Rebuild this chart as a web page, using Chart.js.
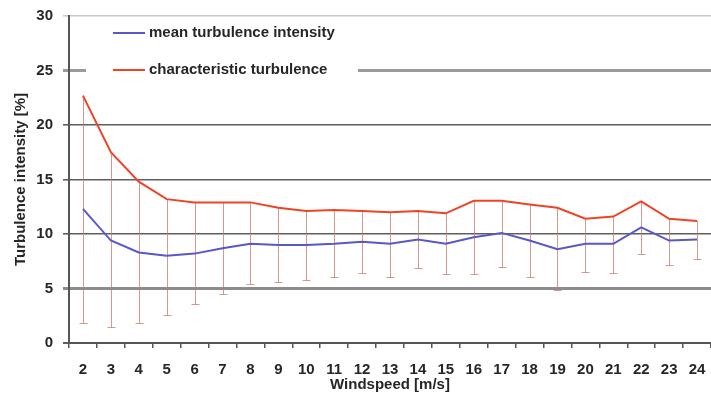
<!DOCTYPE html>
<html>
<head>
<meta charset="utf-8">
<script src="https://cdn.jsdelivr.net/npm/chart.js@4/dist/chart.umd.min.js"></script>
<style>
  body { margin: 0; background: #fff; }
  #chart { display: block; }
</style>
</head>
<body>
<canvas id="chart" width="711" height="405"></canvas>
<script>
// windspeed bins
var windspeed = ['2','3','4','5','6','7','8','9','10','11','12','13','14','15','16','17','18','19','20','21','22','23','24'];
// mean turbulence intensity [%]
var meanTI = [12.3, 9.4, 8.3, 8.0, 8.2, 8.7, 9.1, 9.0, 9.0, 9.1, 9.3, 9.1, 9.5, 9.1, 9.7, 10.1, 9.4, 8.6, 9.1, 9.1, 10.6, 9.4, 9.5];
// characteristic turbulence [%] (top of the error bars)
var charTI = [22.7, 17.5, 14.8, 13.2, 12.9, 12.9, 12.9, 12.4, 12.1, 12.2, 12.1, 12.0, 12.1, 11.9, 13.05, 13.05, 12.7, 12.4, 11.4, 11.6, 13.0, 11.4, 11.2];
// lower end of the error bars [%]
var lowTI = [1.8, 1.5, 1.8, 2.6, 3.6, 4.5, 5.4, 5.6, 5.8, 6.1, 6.4, 6.1, 6.9, 6.3, 6.3, 7.0, 6.1, 4.9, 6.5, 6.4, 8.2, 7.2, 7.7];
// y ticks
var yMin = 0, yMax = 30, yStep = 5;

var blue = '#5858c6';
var red = '#ee4426';
var textCol = '#262626';

// barras de erro desenhadas com as escalas do grafico
var errorBars = {
  id: 'errorBars',
  beforeDatasetsDraw: function(chart) {
    var ctx = chart.ctx, xs = chart.scales.x, ys = chart.scales.y;
    ctx.save();
    ctx.strokeStyle = 'rgba(196,120,110,0.75)';
    ctx.lineWidth = 1;
    for (var i = 0; i < windspeed.length; i++) {
      var x = Math.round(xs.getPixelForValue(i)) + 0.5;
      var yt = ys.getPixelForValue(charTI[i]);
      var yb = Math.round(ys.getPixelForValue(lowTI[i])) + 0.5;
      ctx.beginPath();
      ctx.moveTo(x, yt);
      ctx.lineTo(x, yb);
      ctx.moveTo(x - 4, yb);
      ctx.lineTo(x + 4, yb);
      ctx.stroke();
    }
    ctx.restore();
  }
};

// legenda dentro da area do grafico
var insideLegend = {
  id: 'insideLegend',
  afterDraw: function(chart) {
    var ctx = chart.ctx;
    ctx.save();
    ctx.fillStyle = '#fff';
    ctx.fillRect(86, 23, 272, 58);
    var items = [[blue, 'mean turbulence intensity', 33], [red, 'characteristic turbulence', 70]];
    ctx.font = 'bold 15px "Liberation Sans", Arial, sans-serif';
    ctx.textBaseline = 'middle';
    items.forEach(function(it) {
      ctx.strokeStyle = it[0];
      ctx.lineWidth = 2;
      ctx.beginPath();
      ctx.moveTo(113, it[2]);
      ctx.lineTo(145, it[2]);
      ctx.stroke();
      ctx.fillStyle = textCol;
      ctx.fillText(it[1], 149, it[2]);
    });
    ctx.restore();
  }
};

function gridColor(ctx) {
  var v = ctx.tick ? ctx.tick.value : null;
  if (v === 30) return '#c8c8c8';
  if (v === 25) return '#9a9a9a';
  if (v === 5) return '#8c8c8c';
  return '#5e5e5e';
}
function gridWidth(ctx) {
  var v = ctx.tick ? ctx.tick.value : null;
  if (v === 25 || v === 5) return 3;
  if (v === 0) return 2;
  return 1.6;
}

var tickFont = { family: '"Liberation Sans", Arial, sans-serif', size: 15, weight: 'bold' };

new Chart(document.getElementById('chart'), {
  type: 'line',
  data: {
    labels: windspeed,
    datasets: [
      { label: 'mean turbulence intensity', data: meanTI, borderColor: blue, borderWidth: 2, pointRadius: 0, tension: 0 },
      { label: 'characteristic turbulence', data: charTI, borderColor: red, borderWidth: 2, pointRadius: 0, tension: 0 }
    ]
  },
  options: {
    responsive: false,
    animation: false,
    layout: { padding: { top: 16, right: 0, left: 0, bottom: 0 } },
    plugins: { legend: { display: false }, tooltip: { enabled: false } },
    scales: {
      x: {
        type: 'category',
        offset: true,
        grid: { offset: true, drawOnChartArea: false, drawTicks: true, tickLength: 5, color: '#555', lineWidth: 1.5 },
        border: { color: '#555', width: 2 },
        ticks: { color: textCol, font: tickFont, padding: 13, maxRotation: 0, autoSkip: false },
        title: { display: true, text: 'Windspeed [m/s]', color: textCol, font: tickFont, padding: { top: 0, bottom: 11 } },
        afterFit: function(s) { s.height = 62; s.paddingLeft = 0; s.paddingRight = 0; }
      },
      y: {
        min: yMin, max: yMax,
        ticks: { stepSize: yStep, color: textCol, font: tickFont, padding: 10 },
        grid: { color: gridColor, lineWidth: gridWidth, tickLength: 6 },
        border: { color: '#555', width: 2 },
        title: { display: true, text: 'Turbulence intensity [%]', color: textCol, font: tickFont, padding: { top: 12, bottom: 0 } },
        afterFit: function(s) { s.width = 69; s.paddingTop = 0; s.paddingBottom = 0; }
      }
    }
  },
  plugins: [errorBars, insideLegend]
});
</script>
</body>
</html>
